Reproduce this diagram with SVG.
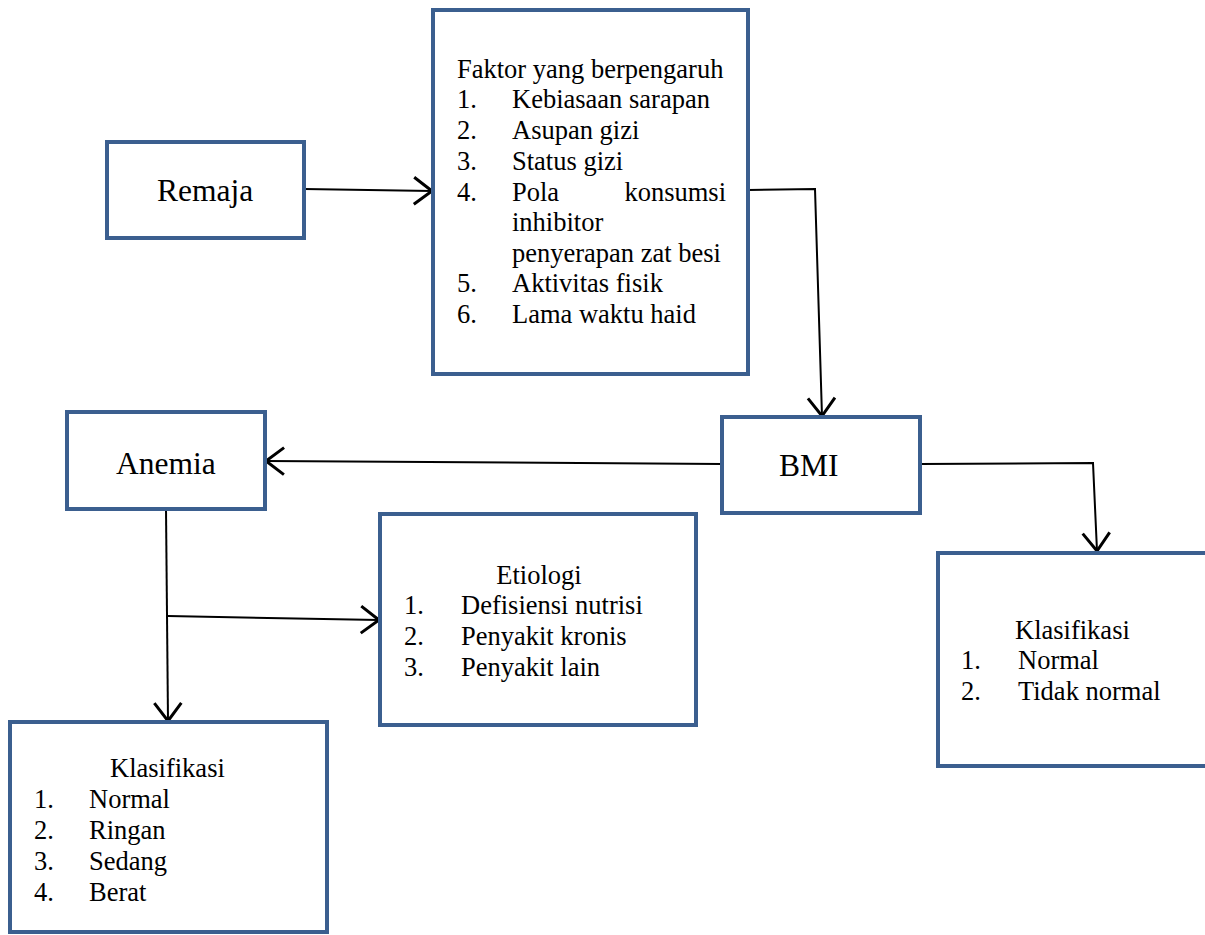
<svg xmlns="http://www.w3.org/2000/svg" width="1205" height="935" viewBox="0 0 1205 935">
<defs>
<style>
.box{fill:#fff;stroke:#3B5F8F;stroke-width:4}
.c{fill:none;stroke:#000;stroke-width:2}
.t{font-family:'Liberation Serif','Times New Roman',serif;font-size:26.5px;fill:#000}
.big{font-size:31.5px}
</style>
<marker id="a" markerUnits="userSpaceOnUse" markerWidth="30" markerHeight="30" refX="16" refY="10" orient="auto" viewBox="0 0 20 20">
<polyline points="4,1 16,10 4,19" fill="none" stroke="#000" stroke-width="2"/>
</marker>
</defs>
<rect width="1205" height="935" fill="#fff"/>
<g id="connectors">
<path class="c" d="M304,189 L432,191" marker-end="url(#a)"/>
<path class="c" d="M748,190 L815,189 L822,416" marker-end="url(#a)"/>
<path class="c" d="M722,464 L266,461" marker-end="url(#a)"/>
<path class="c" d="M920,464 L1093,463 L1097,551" marker-end="url(#a)"/>
<path class="c" d="M166,509 L168,721" marker-end="url(#a)"/>
<path class="c" d="M168,616 L379,620" marker-end="url(#a)"/>
</g>
<g id="remaja">
<rect class="box" x="107" y="142" width="197" height="96"/>
<text class="t big" x="157" y="201">Remaja</text>
</g>
<g id="faktor">
<rect class="box" x="433" y="10" width="315" height="364"/>
<text class="t" x="457" y="78">Faktor yang berpengaruh</text>
<text class="t" x="457" y="108">1.</text><text class="t" x="512" y="108">Kebiasaan sarapan</text>
<text class="t" x="457" y="139">2.</text><text class="t" x="512" y="139">Asupan gizi</text>
<text class="t" x="457" y="170">3.</text><text class="t" x="512" y="170">Status gizi</text>
<text class="t" x="457" y="201">4.</text><text class="t" x="512" y="201">Pola</text><text class="t" x="726" y="201" text-anchor="end">konsumsi</text>
<text class="t" x="512" y="231">inhibitor</text>
<text class="t" x="512" y="262">penyerapan zat besi</text>
<text class="t" x="457" y="292">5.</text><text class="t" x="512" y="292">Aktivitas fisik</text>
<text class="t" x="457" y="323">6.</text><text class="t" x="512" y="323">Lama waktu haid</text>
</g>
<g id="anemia">
<rect class="box" x="67" y="412" width="198" height="97"/>
<text class="t big" x="116" y="474">Anemia</text>
</g>
<g id="bmi">
<rect class="box" x="722" y="417" width="198" height="96"/>
<text class="t big" x="779" y="476">BMI</text>
</g>
<g id="etiologi">
<rect class="box" x="380" y="514" width="316" height="211"/>
<text class="t" x="539" y="584" text-anchor="middle">Etiologi</text>
<text class="t" x="404" y="614">1.</text><text class="t" x="461" y="614">Defisiensi nutrisi</text>
<text class="t" x="404" y="645">2.</text><text class="t" x="461" y="645">Penyakit kronis</text>
<text class="t" x="404" y="676">3.</text><text class="t" x="461" y="676">Penyakit lain</text>
</g>
<g id="klasifikasi-bmi">
<rect class="box" x="938" y="553" width="280" height="213"/>
<text class="t" x="1015" y="639">Klasifikasi</text>
<text class="t" x="961" y="669">1.</text><text class="t" x="1018" y="669">Normal</text>
<text class="t" x="961" y="700">2.</text><text class="t" x="1018" y="700">Tidak normal</text>
</g>
<g id="klasifikasi-anemia">
<rect class="box" x="10" y="722" width="317" height="210"/>
<text class="t" x="110" y="777">Klasifikasi</text>
<text class="t" x="34" y="808">1.</text><text class="t" x="89" y="808">Normal</text>
<text class="t" x="34" y="839">2.</text><text class="t" x="89" y="839">Ringan</text>
<text class="t" x="34" y="870">3.</text><text class="t" x="89" y="870">Sedang</text>
<text class="t" x="34" y="901">4.</text><text class="t" x="89" y="901">Berat</text>
</g>
</svg>
